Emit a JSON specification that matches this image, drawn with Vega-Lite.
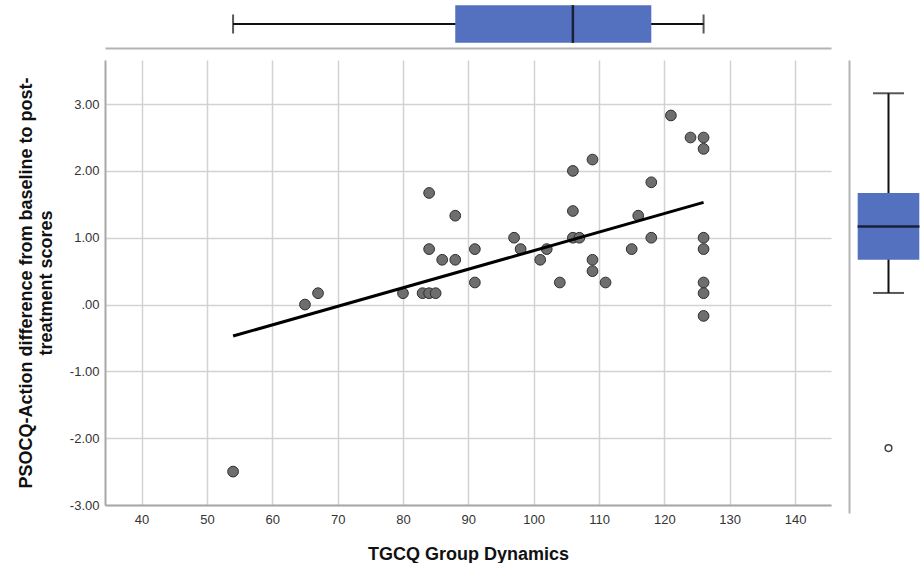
{
  "$schema": "https://vega.github.io/schema/vega-lite/v6.json",
  "padding": {"left": 17, "top": 0, "right": 0, "bottom": 0},
  "background": "white",
  "datasets": {
    "scores": [
      {"tgcq": 54, "psocq": -2.5},
      {"tgcq": 65, "psocq": 0},
      {"tgcq": 67, "psocq": 0.17},
      {"tgcq": 80, "psocq": 0.17},
      {"tgcq": 83, "psocq": 0.17},
      {"tgcq": 84, "psocq": 0.17},
      {"tgcq": 85, "psocq": 0.17},
      {"tgcq": 84, "psocq": 1.67},
      {"tgcq": 84, "psocq": 0.83},
      {"tgcq": 86, "psocq": 0.67},
      {"tgcq": 88, "psocq": 1.33},
      {"tgcq": 88, "psocq": 0.67},
      {"tgcq": 91, "psocq": 0.83},
      {"tgcq": 91, "psocq": 0.33},
      {"tgcq": 97, "psocq": 1.0},
      {"tgcq": 98, "psocq": 0.83},
      {"tgcq": 101, "psocq": 0.67},
      {"tgcq": 102, "psocq": 0.83},
      {"tgcq": 104, "psocq": 0.33},
      {"tgcq": 106, "psocq": 2.0},
      {"tgcq": 106, "psocq": 1.4},
      {"tgcq": 106, "psocq": 1.0},
      {"tgcq": 107, "psocq": 1.0},
      {"tgcq": 109, "psocq": 2.17},
      {"tgcq": 109, "psocq": 0.67},
      {"tgcq": 109, "psocq": 0.5},
      {"tgcq": 111, "psocq": 0.33},
      {"tgcq": 115, "psocq": 0.83},
      {"tgcq": 116, "psocq": 1.33},
      {"tgcq": 118, "psocq": 1.83},
      {"tgcq": 118, "psocq": 1.0},
      {"tgcq": 121, "psocq": 2.83},
      {"tgcq": 124, "psocq": 2.5},
      {"tgcq": 126, "psocq": 2.5},
      {"tgcq": 126, "psocq": 2.33},
      {"tgcq": 126, "psocq": 1.0},
      {"tgcq": 126, "psocq": 0.83},
      {"tgcq": 126, "psocq": 0.33},
      {"tgcq": 126, "psocq": 0.17},
      {"tgcq": 126, "psocq": -0.17}
    ],
    "tgcqBox": [
      {"variable": "TGCQ Group Dynamics", "lower": 54, "q1": 88, "median": 106, "q3": 118, "upper": 126}
    ],
    "psocqBox": [
      {"variable": "PSOCQ-Action", "lower": -0.17, "q1": 0.33, "median": 0.83, "q3": 1.33, "upper": 2.83}
    ],
    "psocqOutliers": [
      {"variable": "PSOCQ-Action", "value": -2.5}
    ]
  },
  "columns": 2,
  "spacing": {"row": 12, "column": 18},
  "bounds": "flush",
  "resolve": {"scale": {"x": "independent", "y": "independent"}, "axis": {"x": "independent", "y": "independent"}},
  "concat": [
    {
      "width": 726,
      "height": 48,
      "data": {"name": "tgcqBox"},
      "encoding": {
        "y": {"field": "variable", "type": "nominal", "axis": null,
              "scale": {"paddingInner": 0, "paddingOuter": 0.137, "align": 0.5}}
      },
      "layer": [
        {
          "mark": {"type": "rule", "color": "#111", "strokeWidth": 2},
          "encoding": {
            "x": {"field": "lower", "type": "quantitative",
                  "scale": {"domain": [34.4, 145.5], "nice": false, "zero": false},
                  "axis": {"orient": "bottom", "labels": false, "ticks": false, "grid": false, "title": null,
                           "domainColor": "#b4b4b4", "domainWidth": 2}},
            "x2": {"field": "upper"}
          }
        },
        {
          "mark": {"type": "bar", "color": "#5371bf"},
          "encoding": {
            "x": {"field": "q1", "type": "quantitative"},
            "x2": {"field": "q3"}
          }
        },
        {
          "mark": {"type": "tick", "color": "#000", "thickness": 2.5, "size": 38},
          "encoding": {"x": {"field": "median", "type": "quantitative"}}
        },
        {
          "mark": {"type": "tick", "color": "#111", "thickness": 2, "size": 19},
          "encoding": {"x": {"field": "lower", "type": "quantitative"}}
        },
        {
          "mark": {"type": "tick", "color": "#111", "thickness": 2, "size": 19},
          "encoding": {"x": {"field": "upper", "type": "quantitative"}}
        }
      ]
    },
    {
      "width": 73,
      "height": 48,
      "data": {"values": []},
      "mark": {"type": "point", "opacity": 0}
    },
    {
      "width": 726,
      "height": 445,
      "data": {"name": "scores"},
      "encoding": {
        "x": {"field": "tgcq", "type": "quantitative",
              "scale": {"domain": [34.4, 145.5], "nice": false, "zero": false},
              "axis": {"title": "TGCQ Group Dynamics", "values": [40, 50, 60, 70, 80, 90, 100, 110, 120, 130, 140],
                       "labelPadding": 8, "titlePadding": 19}},
        "y": {"field": "psocq", "type": "quantitative",
              "scale": {"domain": [-3, 3.66], "nice": false, "zero": false},
              "axis": {"title": ["PSOCQ-Action difference from baseline to post-", "treatment scores"],
                       "values": [-3, -2, -1, 0, 1, 2, 3],
                       "labelExpr": "datum.value == 0 ? '.00' : (datum.value < 0 ? '-' + format(-datum.value, '.2f') : format(datum.value, '.2f'))",
                       "labelPadding": 6, "titlePadding": 14, "titleLineHeight": 20}}
      },
      "layer": [
        {
          "mark": {"type": "circle", "size": 115, "fill": "#6e6e6e", "stroke": "#2e2e2e", "strokeWidth": 1, "opacity": 1}
        },
        {
          "transform": [{"regression": "psocq", "on": "tgcq"}],
          "mark": {"type": "line", "color": "#000", "strokeWidth": 3}
        }
      ]
    },
    {
      "width": 73,
      "height": 453,
      "encoding": {
        "x": {"field": "variable", "type": "nominal", "axis": null,
              "scale": {"paddingInner": 0, "paddingOuter": 0.0925, "align": 0.763}}
      },
      "layer": [
        {
          "data": {"name": "psocqBox"},
          "mark": {"type": "rule", "color": "#111", "strokeWidth": 2},
          "encoding": {
            "y": {"field": "lower", "type": "quantitative",
                  "scale": {"domain": [-3.476, 3.33], "nice": false, "zero": false},
                  "axis": {"orient": "left", "labels": false, "ticks": false, "grid": false, "title": null,
                           "domainColor": "#b4b4b4", "domainWidth": 2}},
            "y2": {"field": "upper"}
          }
        },
        {
          "data": {"name": "psocqBox"},
          "mark": {"type": "bar", "color": "#5371bf"},
          "encoding": {
            "y": {"field": "q1", "type": "quantitative"},
            "y2": {"field": "q3"}
          }
        },
        {
          "data": {"name": "psocqBox"},
          "mark": {"type": "tick", "color": "#000", "thickness": 2.5, "size": 62},
          "encoding": {"y": {"field": "median", "type": "quantitative"}}
        },
        {
          "data": {"name": "psocqBox"},
          "mark": {"type": "tick", "color": "#111", "thickness": 2, "size": 31},
          "encoding": {"y": {"field": "lower", "type": "quantitative"}}
        },
        {
          "data": {"name": "psocqBox"},
          "mark": {"type": "tick", "color": "#111", "thickness": 2, "size": 31},
          "encoding": {"y": {"field": "upper", "type": "quantitative"}}
        },
        {
          "data": {"name": "psocqOutliers"},
          "mark": {"type": "point", "filled": false, "stroke": "#444", "strokeWidth": 1.5, "size": 45, "opacity": 1},
          "encoding": {"y": {"field": "value", "type": "quantitative"}}
        }
      ]
    }
  ],
  "config": {
    "view": {"stroke": null},
    "font": "Liberation Sans",
    "axis": {
      "labelFont": "Liberation Sans",
      "labelFontSize": 13,
      "labelColor": "#333",
      "titleFont": "Liberation Sans",
      "titleFontSize": 18,
      "titleFontWeight": "bold",
      "titleColor": "#111",
      "ticks": false,
      "tickSize": 0,
      "gridColor": "#d2d2d2",
      "gridWidth": 1.5,
      "domainColor": "#a8a8a8",
      "domainWidth": 2
    }
  }
}
